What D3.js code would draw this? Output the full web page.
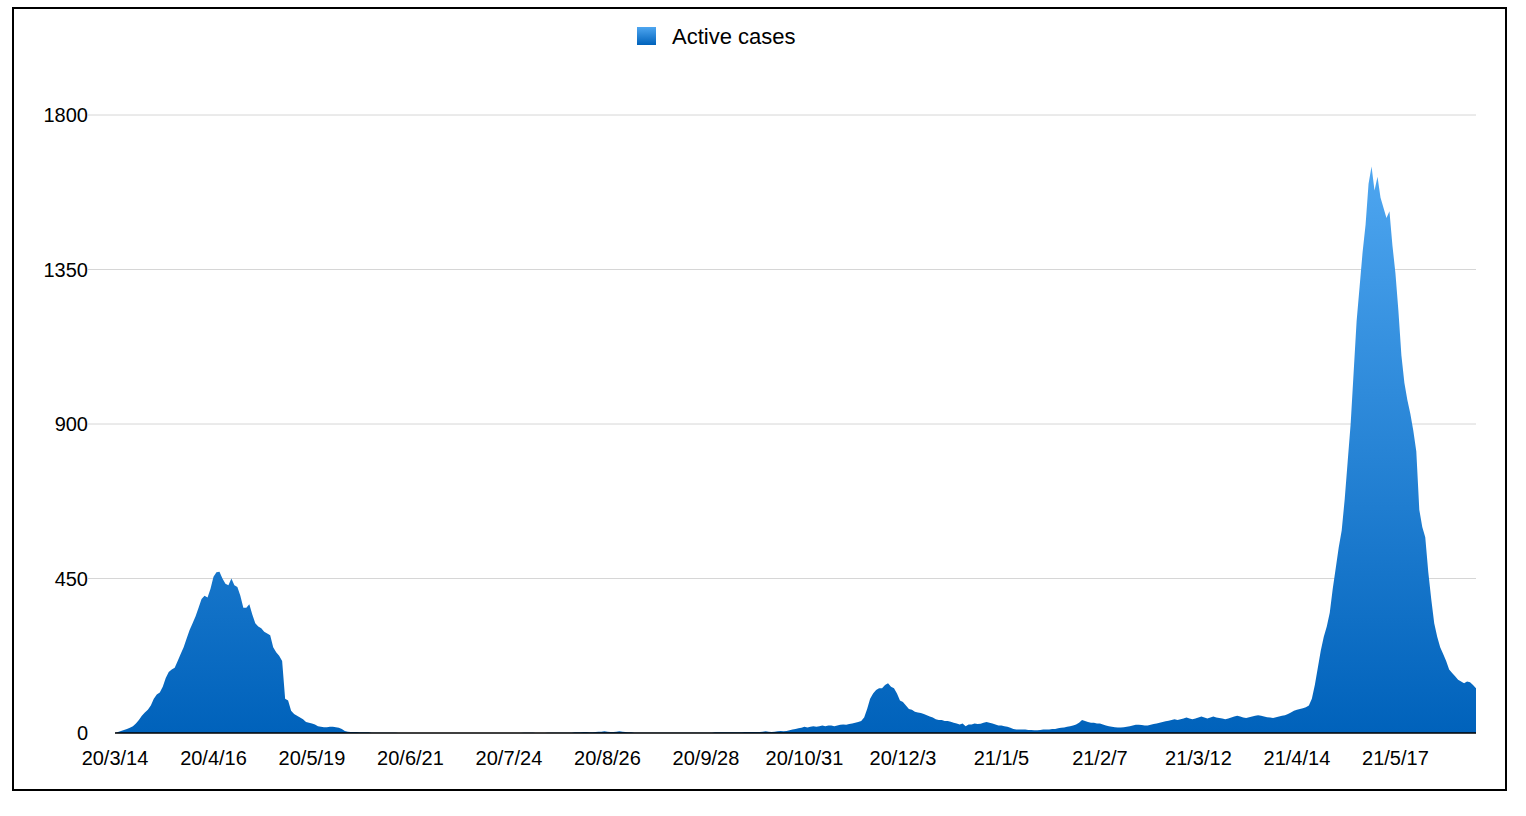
<!DOCTYPE html>
<html><head><meta charset="utf-8">
<script src="https://cdn.jsdelivr.net/npm/d3@7"></script>
<style>body{margin:0;background:#fff}svg{display:block;font-family:"Liberation Sans",Arial,sans-serif}</style>
</head><body><svg id="c" width="1526" height="816"></svg>
<script>
const startDate = "2020-03-14";
const seriesName = "Active cases";
const yTicks = [0, 450, 900, 1350, 1800];
const xTickLabels = ["20/3/14","20/4/16","20/5/19","20/6/21","20/7/24","20/8/26","20/9/28","20/10/31","20/12/3","21/1/5","21/2/7","21/3/12","21/4/14","21/5/17"];
const activeCases = [
0,3,6,9,12,15,20,28,38,50,60,68,80,100,112,118,135,160,178,185,190,210,230,250,275,300,320,340,365,390,
400,395,420,455,468,470,450,435,430,450,430,425,400,365,365,375,345,320,310,305,295,290,285,250,235,225,210,
100,95,65,55,50,45,40,32,30,28,25,20,18,17,17,18,18,17,15,12,6,4,
3,3,3,2,2,2,2,1,1,1,1,1,
1,1,1,1,0,0,0,0,0,0, 0,0,0,0,0,0,0,0,0,0, 0,0,0,0,0,0,0,0,0,0, 0,0,0,0,0,0,0,0,0,0, 0,0,0,0,0,0,1,1,1,1, 0,0,0,0,1,1,1,1,1,1,
1,1,1,2,2,2,3,3,2,2,3,4,4,5,4,3,3,4,5,4,3,2,2,1,1,1,1,1,1,1,
1,1,1,1,1,1,1,1,1,1,1,1,1,1,1,1,1,1,1,1,2,2,2,2,2,2,2,2,2,2,3,3,3,3,3,
3,4,5,4,3,4,5,6,5,6,8,10,12,14,15,18,16,18,20,18,20,22,20,22,22,20,22,24,25,24,26,28,30,32,35,
45,70,100,115,125,130,130,140,145,135,130,115,95,90,80,70,68,62,60,58,55,52,48,45,40,38,38,35,35,33,30,28,25,28,20,25,25,28,26,27,30,32,30,28,25,22,22,20,18,15,
12,10,10,10,10,9,9,8,8,9,10,10,10,12,12,14,15,16,18,20,22,25,30,38,35,32,30,30,28,28,25,22,20,18,17,16,16,17,18,20,22,24,24,23,22,
22,24,26,28,30,32,34,36,38,40,38,40,42,45,42,40,42,45,48,45,42,45,48,45,44,42,40,42,45,48,50,48,45,44,46,48,50,52,50,48,46,45,44,46,48,50,52,55,60,65,68,70,72,75,
80,100,140,190,240,280,310,350,420,480,540,590,680,790,900,1050,1200,1300,1400,1480,1600,1650,1580,1620,1560,1530,1500,1520,1420,1340,1230,1100,1020,970,930,880,820,650,600,570,470,390,320,280,250,230,210,185,175,165,155,150,145,150,148,140,130
];
const parse = d3.timeParse("%Y-%m-%d");
const t0 = parse(startDate);
const data = activeCases.map((v,i)=>({date:d3.timeDay.offset(t0,i), v}));
const tickDates = xTickLabels.map(s=>{const [y,m,d]=s.split("/").map(Number);return new Date(2000+y,m-1,d);});

const svg = d3.select("#c");
svg.append("rect").attr("x",13).attr("y",8).attr("width",1493).attr("height",782).attr("fill","#fff").attr("stroke","#000").attr("stroke-width",2);

const x = d3.scaleTime().domain([t0, data[data.length-1].date]).range([115,1476]);
const y = d3.scaleLinear().domain([0,1800]).range([733,115]);

const defs = svg.append("defs");
const g = defs.append("linearGradient").attr("id","gr").attr("x1",0).attr("y1",0).attr("x2",0).attr("y2",1);
g.append("stop").attr("offset","0%").attr("stop-color","#4ea6f0");
g.append("stop").attr("offset","100%").attr("stop-color","#0062bb");

svg.append("g").selectAll("line").data(yTicks.slice(1)).join("line")
 .attr("x1",88).attr("x2",1476).attr("y1",d=>y(d)).attr("y2",d=>y(d)).attr("stroke","#d6d6d6");

svg.append("path").datum(data).attr("fill","url(#gr)")
 .attr("d", d3.area().x(d=>x(d.date)).y0(y(0)).y1(d=>y(d.v)).curve(d3.curveLinear));
// gradient across full y domain
g.attr("gradientUnits","userSpaceOnUse").attr("x1",0).attr("x2",0).attr("y1",y(1650)).attr("y2",y(0));

svg.append("line").attr("x1",115).attr("x2",1476).attr("y1",733).attr("y2",733).attr("stroke","#000").attr("stroke-width",1.5);

svg.append("g").selectAll("text").data(yTicks).join("text")
 .attr("x",88).attr("y",d=>y(d)+7).attr("text-anchor","end").attr("font-size",20).text(d=>d);

svg.append("g").selectAll("text").data(tickDates).join("text")
 .attr("x",d=>x(d)).attr("y",765).attr("text-anchor","middle").attr("font-size",20).text((d,i)=>xTickLabels[i]);

const lg = svg.append("g");
lg.append("rect").attr("x",637).attr("y",27).attr("width",19).attr("height",18).attr("fill","url(#lgr)");
const lgr = defs.append("linearGradient").attr("id","lgr").attr("x1",0).attr("y1",0).attr("x2",0).attr("y2",1);
lgr.append("stop").attr("offset","0%").attr("stop-color","#4ea6f0");
lgr.append("stop").attr("offset","100%").attr("stop-color","#0062bb");
lg.append("text").attr("x",672).attr("y",44).attr("font-size",22).text(seriesName);
</script></body></html>
